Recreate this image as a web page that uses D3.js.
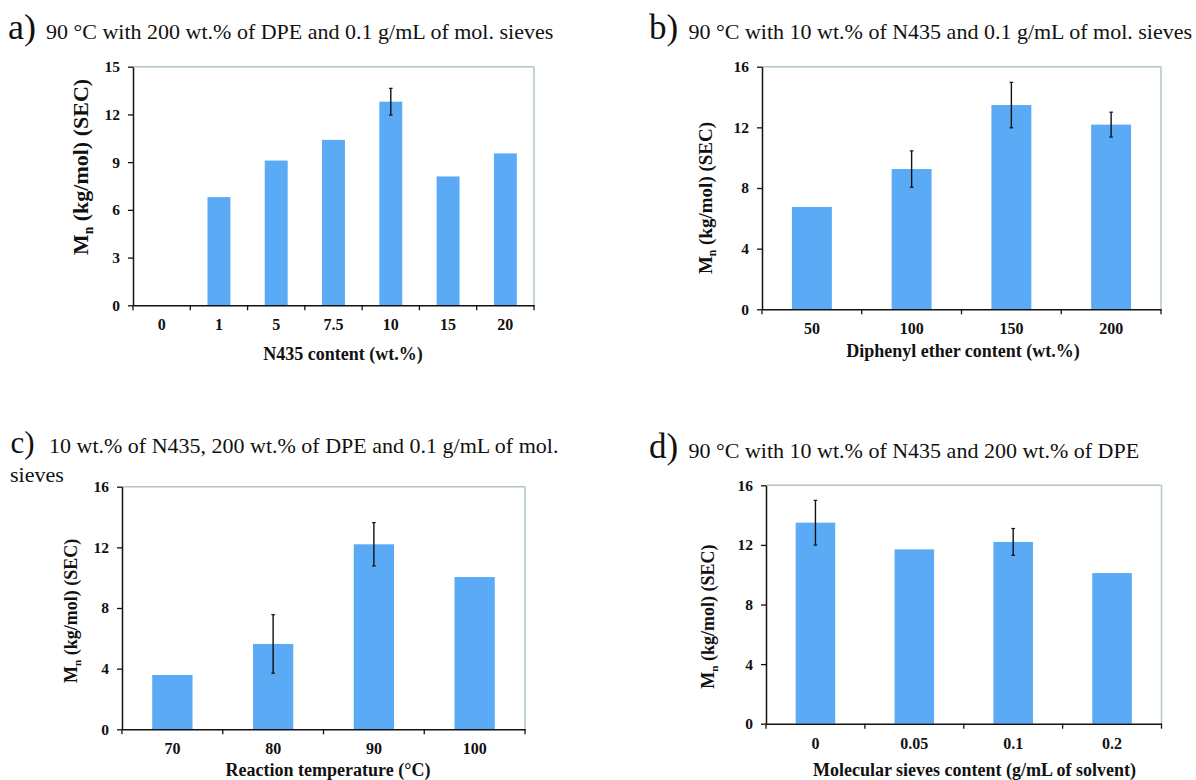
<!DOCTYPE html>
<html>
<head>
<meta charset="utf-8">
<script src="https://cdn.jsdelivr.net/npm/d3@7"></script>
<style>
  html, body { margin: 0; padding: 0; background: #fff; }
  svg { display: block; }
</style>
</head>
<body>
<svg id="chart" width="1196" height="780"></svg>
<script>
// ---------- data ----------
const catsA = ["0", "1", "5", "7.5", "10", "15", "20"];
const valsA = [0, 6.8, 9.1, 10.4, 12.8, 8.1, 9.55];
const errsA = [0, 0, 0, 0, 0.84, 0, 0];
const ticksA = [0, 3, 6, 9, 12, 15];

const catsB = ["50", "100", "150", "200"];
const valsB = [6.75, 9.25, 13.47, 12.18];
const errsB = [0, 1.2, 1.5, 0.82];
const ticksB = [0, 4, 8, 12, 16];

const catsC = ["70", "80", "90", "100"];
const valsC = [3.58, 5.63, 12.2, 10.04];
const errsC = [0, 1.93, 1.43, 0];
const ticksC = [0, 4, 8, 12, 16];

const catsD = ["0", "0.05", "0.1", "0.2"];
const valsD = [13.49, 11.7, 12.2, 10.11];
const errsD = [1.5, 0, 0.9, 0];
const ticksD = [0, 4, 8, 12, 16];

const labelA = "a)", subA = "90 \u00B0C with 200 wt.% of DPE and 0.1 g/mL of mol. sieves", xTitleA = "N435 content (wt.%)";
const labelB = "b)", subB = "90 \u00B0C with 10 wt.% of N435 and 0.1 g/mL of mol. sieves", xTitleB = "Diphenyl ether content (wt.%)";
const labelC = "c)", subC = "10 wt.% of N435, 200 wt.% of DPE and 0.1 g/mL of mol.", subC2 = "sieves", xTitleC = "Reaction temperature (\u00B0C)";
const labelD = "d)", subD = "90 \u00B0C with 10 wt.% of N435 and 200 wt.% of DPE", xTitleD = "Molecular sieves content (g/mL of solvent)";

// ---------- drawing ----------
const FONT = "'Liberation Serif', 'Times New Roman', Times, serif";
const BAR = "#5aaaf5";
const svg = d3.select("#chart");

const panels = [
  { label: labelA, sub: subA, sub2: null, xTitle: xTitleA, cats: catsA, vals: valsA, errs: errsA, ticks: ticksA, ymax: 15,
    l: 133, r: 534, t: 66.7, b: 305.3,
    labX: 8, labSize: 36, subX: 46, subY: 38.5, sub2Y: 0,
    xtY: 353.5, xtX: 343, yt: { x: 80.5, y: 167, size: 22 } },
  { label: labelB, sub: subB, sub2: null, xTitle: xTitleB, cats: catsB, vals: valsB, errs: errsB, ticks: ticksB, ymax: 16,
    l: 762, r: 1161, t: 66.7, b: 309.3,
    labX: 649, labSize: 35, subX: 688.5, subY: 38.5, sub2Y: 0,
    xtY: 351, xtX: 963, yt: { x: 706, y: 198, size: 19 } },
  { label: labelC, sub: subC, sub2: subC2, xTitle: xTitleC, cats: catsC, vals: valsC, errs: errsC, ticks: ticksC, ymax: 16,
    l: 122, r: 525, t: 486.7, b: 729.3,
    labX: 10.5, labSize: 31, subX: 49, subY: 453, sub2Y: 481.7,
    xtY: 770, xtX: 328, yt: { x: 71, y: 610.8, size: 18 } },
  { label: labelD, sub: subD, sub2: null, xTitle: xTitleD, cats: catsD, vals: valsD, errs: errsD, ticks: ticksD, ymax: 16,
    l: 766, r: 1161.5, t: 485.3, b: 723.7,
    labX: 649, labSize: 35, subX: 688.5, subY: 458.3, sub2Y: 0,
    xtY: 769.5, xtX: 974.5, yt: { x: 708, y: 616.7, size: 18 } }
];

panels.forEach(p => {
  const g = svg.append("g");
  const x = d3.scaleBand().domain(p.cats).range([p.l, p.r]).padding(0);
  const y = d3.scaleLinear().domain([0, p.ymax]).range([p.b, p.t]);

  // panel label + subtitle
  g.append("text").attr("x", p.labX).attr("y", p.subY)
    .attr("font-family", FONT).attr("font-size", p.labSize).attr("fill", "#111")
    .text(p.label);
  g.append("text").attr("x", p.subX).attr("y", p.subY)
    .attr("font-family", FONT).attr("font-size", 22).attr("fill", "#111")
    .text(p.sub);
  if (p.sub2) {
    g.append("text").attr("x", p.labX - 0.5).attr("y", p.sub2Y)
      .attr("font-family", FONT).attr("font-size", 22).attr("fill", "#111")
      .text(p.sub2);
  }

  // light frame (top + right)
  g.append("line").attr("x1", p.l).attr("x2", p.r).attr("y1", p.t).attr("y2", p.t)
    .attr("stroke", "#b2c6c6").attr("stroke-width", 1.5);
  g.append("line").attr("x1", p.r).attr("x2", p.r).attr("y1", p.t).attr("y2", p.b)
    .attr("stroke", "#b2c6c6").attr("stroke-width", 1.5);

  // bars
  const data = p.cats.map((c, i) => ({ c, v: p.vals[i], e: p.errs[i] }));
  g.selectAll("rect.bar").data(data.filter(d => d.v > 0)).join("rect")
    .attr("class", "bar")
    .attr("x", d => x(d.c) + x.bandwidth() * 0.3)
    .attr("width", x.bandwidth() * 0.4)
    .attr("y", d => y(d.v))
    .attr("height", d => y(0) - y(d.v))
    .attr("fill", BAR);

  // error bars
  const eb = g.selectAll("g.err").data(data.filter(d => d.e > 0)).join("g").attr("class", "err");
  eb.append("line")
    .attr("x1", d => x(d.c) + x.bandwidth() / 2).attr("x2", d => x(d.c) + x.bandwidth() / 2)
    .attr("y1", d => y(d.v + d.e)).attr("y2", d => y(d.v - d.e))
    .attr("stroke", "#111").attr("stroke-width", 1.4);
  [1, -1].forEach(s => {
    eb.append("line")
      .attr("x1", d => x(d.c) + x.bandwidth() / 2 - 1.8).attr("x2", d => x(d.c) + x.bandwidth() / 2 + 1.8)
      .attr("y1", d => y(d.v + s * d.e)).attr("y2", d => y(d.v + s * d.e))
      .attr("stroke", "#111").attr("stroke-width", 1.2);
  });

  // y axis
  const ya = d3.axisLeft(y).tickValues(p.ticks).tickSize(5).tickSizeOuter(0).tickPadding(8).tickFormat(d3.format("d"));
  const yg = g.append("g").attr("transform", `translate(${p.l},0)`).call(ya);
  yg.select(".domain").attr("stroke", "#111").attr("stroke-width", 1.5);
  yg.selectAll(".tick line").attr("stroke", "#111").attr("stroke-width", 1.3);
  yg.selectAll(".tick text").attr("font-family", FONT).attr("font-size", 15.5)
    .attr("font-weight", "bold").attr("fill", "#111");

  // x axis
  const xa = d3.axisBottom(x).tickSize(0).tickSizeOuter(0).tickPadding(13.5);
  const xg = g.append("g").attr("transform", `translate(0,${p.b})`).call(xa);
  xg.select(".domain").attr("stroke", "#111").attr("stroke-width", 1.5);
  xg.selectAll(".tick text").attr("font-family", FONT).attr("font-size", 16)
    .attr("font-weight", "bold").attr("fill", "#111");
  // boundary ticks
  g.selectAll("line.bt").data(d3.range(p.cats.length + 1)).join("line")
    .attr("class", "bt")
    .attr("x1", i => x.range()[0] + i * x.step()).attr("x2", i => x.range()[0] + i * x.step())
    .attr("y1", p.b).attr("y2", p.b + 5)
    .attr("stroke", "#111").attr("stroke-width", 1.3);

  // x title
  g.append("text").attr("x", p.xtX).attr("y", p.xtY + 6)
    .attr("text-anchor", "middle").attr("font-family", FONT).attr("font-size", 18)
    .attr("font-weight", "bold").attr("fill", "#111")
    .text(p.xTitle);

  // y title with subscript
  const yt = g.append("text")
    .attr("transform", `translate(${p.yt.x},${p.yt.y}) rotate(-90)`)
    .attr("text-anchor", "middle").attr("dy", "0.33em")
    .attr("font-family", FONT).attr("font-size", p.yt.size)
    .attr("font-weight", "bold").attr("fill", "#111");
  yt.append("tspan").text("M");
  yt.append("tspan").attr("font-size", p.yt.size * 0.62).attr("dy", p.yt.size * 0.22).text("n");
  yt.append("tspan").attr("dy", -p.yt.size * 0.22).text(" (kg/mol) (SEC)");
});
</script>
</body>
</html>
